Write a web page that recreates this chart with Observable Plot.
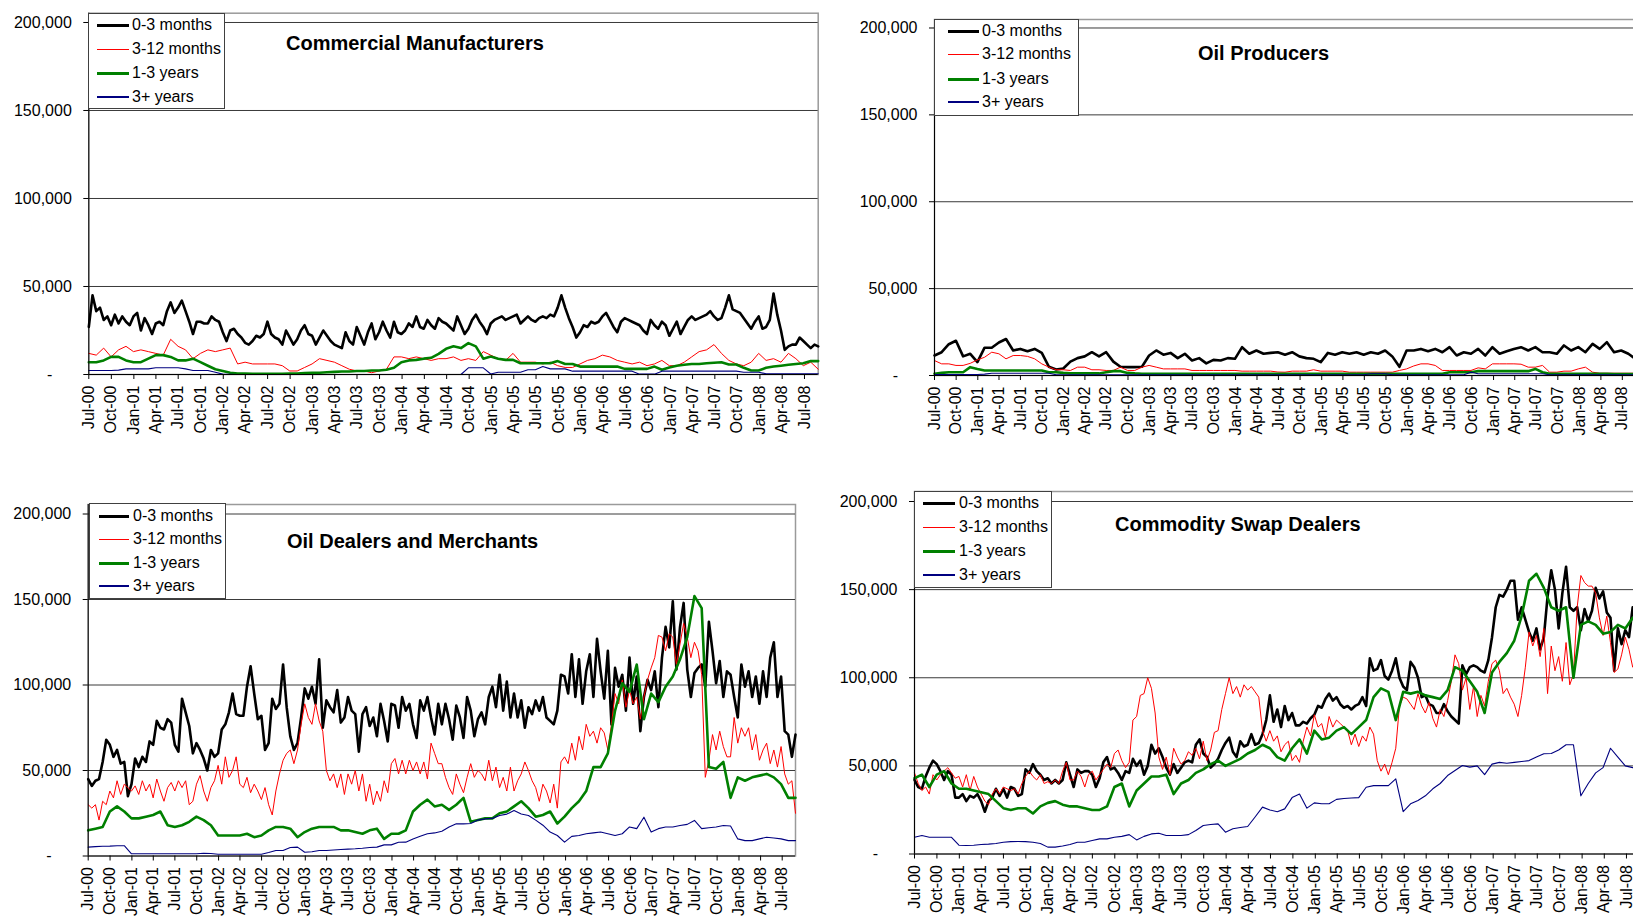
<!DOCTYPE html>
<html><head><meta charset="utf-8">
<script src="https://cdn.jsdelivr.net/npm/d3@7"></script>
<script src="https://cdn.jsdelivr.net/npm/@observablehq/plot@0.6"></script>
<style>
html,body{margin:0;padding:0;background:#fff;}
body{width:1633px;height:916px;overflow:hidden;position:relative;font-family:"Liberation Sans",Arial,sans-serif;color:#000;}
.panel{position:absolute;}
.legend{position:absolute;background:#fff;border:1px solid #404040;box-sizing:border-box;}
.entry{position:absolute;left:0;height:24px;width:100%;}
.entry .sw{position:absolute;}
.entry .tx{position:absolute;top:0;line-height:24px;font-size:16px;white-space:nowrap;}
.title{position:absolute;font-weight:bold;font-size:20px;line-height:20px;white-space:nowrap;}
</style></head><body>
<script>
// ---- categories / labels ----
const seriesNames = ["0-3 months", "3-12 months", "1-3 years", "3+ years"];
const seriesColors = ["#000000", "#ff0000", "#008000", "#000080"];
const seriesWidths = [2.6, 1, 2.6, 1.1];
const legendWidths = [3, 1, 3, 2];
const xTickLabels = ["Jul-00","Oct-00","Jan-01","Apr-01","Jul-01","Oct-01","Jan-02","Apr-02","Jul-02","Oct-02","Jan-03","Apr-03","Jul-03","Oct-03","Jan-04","Apr-04","Jul-04","Oct-04","Jan-05","Apr-05","Jul-05","Oct-05","Jan-06","Apr-06","Jul-06","Oct-06","Jan-07","Apr-07","Jul-07","Oct-07","Jan-08","Apr-08","Jul-08"];
const yTickValues = [0, 50000, 100000, 150000, 200000];
const yTickLabels = ["-", "50,000", "100,000", "150,000", "200,000"];
const firstDate = "2000-07-01", lastDate = "2008-08-26";

// ---- series values (thousands of contracts) ----
// Commercial Manufacturers
const cm03 = [
27,45,36,38,31,33,28,34,29,33,30,28,
33,35,25,32,28,23,29,30,28,36,41,35,
38,42,36,30,23,30,30,29,29,33,31,30,
24,19,25,26,23,21,18,17,19,22,21,23,
30,23,21,20,17,25,21,17,20,25,28,23,
22,17,21,25,22,19,17,16,15,24,19,17,
27,22,17,24,29,20,24,30,25,21,30,24,
23,25,29,27,33,27,26,31,28,26,32,30,
29,27,25,33,28,23,26,31,34,30,27,23,
29,31,32,33,31,32,33,34,29,31,33,31,
30,32,33,32,34,33,38,45,38,32,27,21,
24,28,27,30,29,30,33,35,31,27,24,30,
32,31,30,29,28,25,23,31,28,26,30,28,
22,26,30,23,27,31,33,31,32,33,34,36,
33,31,32,38,45,37,36,35,32,29,26,30,
33,26,27,31,46,34,25,14,16,17,17,21,
19,17,15,17,16];
const cm312 = [
12,11,15,10,14,16,13,14,13,12,11,20,
16,14,9,12,14,13,14,15,6,7,6,6,
6,6,5,2,2,4,6,9,8,7,5,3,
2,2,1,2,3,10,10,9,10,9,8,9,
9,10,8,9,8,13,11,9,8,12,7,7,
7,6,7,5,4,4,6,8,9,11,10,8,
7,6,7,5,6,8,5,5,7,10,13,14,
17,12,8,6,5,7,12,8,9,7,12,9,
5,7,3];
const cm13 = [
7,7,8,10,10,8,7,7,9,11,11,10,
8,8,9,7,5,3,2,1,0.5,0.5,0.4,0.4,
0.4,0.4,0.4,0.5,0.6,0.8,1,1,1.3,1.5,1.7,1.7,
2,2,2.3,2.3,2.7,3.8,7,8,8.3,9,9.5,11.7,
14.6,16,15,17.8,16,9,10.2,9,8.3,8.3,6.4,6.4,
6.4,6.4,6.4,7.6,6,6,4.5,4.5,4.5,4.5,4.5,4.5,
3.2,3.2,3.2,3.2,4.5,2.7,4,5,5.5,6,6,6.4,
6.7,7,5.7,5.7,3.8,2.3,2.3,3.8,4.5,5,5.5,6,
6.4,7.6,7.6];
const cm3p = [
2.3,2.3,2.3,2.3,2.5,3.2,3.2,3.2,3.2,3.8,3.8,3.8,
3.8,3.2,2.3,2.3,2.3,1.3,0.2,0.1,0,0,0,0,
0,0,0,0,0,0,0,0,0,0,0,0,
0,0,0,0,0,0,0,0,0,0,0,0,
0,0,0,3.8,3.8,3.8,0.3,1.3,1.3,1.3,1.3,2.7,
2.7,4.5,3.2,3.2,3.2,1.9,1.9,1.9,1.9,1.9,1.9,1.9,
1.9,1.9,0.2,0.2,0.2,1.9,1.9,1.9,1.9,1.9,1.9,1.9,
1.9,1.9,1.9,1.9,1.3,1.3,1.3,0.4,0.4,0.4,0.4,0.4,
0.4,0.4,0.4];
// Oil Producers
const op03 = [
11.5,13.4,18,20,11,12.5,7.7,16,16,19,21,14.4,
15.3,14,15.3,13,5,3.5,4,8,10,11,13.4,11,
13.4,8,5,4.8,4.8,5,11.5,14.4,12,13,10,12.5,
8.6,10,7,9,8.6,10,9.6,16.3,12.5,14.4,12.5,13,
13.4,12,13.4,11,10,9.6,7.7,13,12,13.4,12.5,13.4,
12,13.4,12.5,14.4,11,5,14.4,14.4,15.3,14,15.3,13.4,
16.3,11.5,13.4,12.5,15.3,11.5,16.3,12.5,14,15.3,16.3,14.4,
16.3,13.4,13.4,12.5,17.3,14.4,16.3,13.4,18.2,15.3,19.2,13.4,
14.4,12.5,9.6];
const op312 = [
8.6,6.7,6.7,5.8,5.8,7,9,10.5,13.4,12.5,9.6,11.5,
11.5,11,9.6,6.7,4.8,3.3,3.3,2.9,4.8,4.8,3.3,3.3,
2.9,2.9,4.8,2.9,2.9,4.8,5.8,4.8,3.8,3.8,3.8,3.8,
2.9,2.9,2.9,2.9,2.9,2.9,2.9,2.5,2.5,2.5,2.5,2.5,
2,1.9,2.5,2.5,2.5,3.3,2.5,2.5,2.5,2.5,1.9,1.9,
1.9,1.9,1.9,1.9,1.9,2.9,3.8,5.5,6.7,6.7,5.8,2.9,
2.9,2.9,2.9,2.9,4.4,3.8,6.7,6.7,6.7,6.7,6.5,4.8,
4.8,5.8,1.9,1.9,2.5,2.5,3.8,4.8,1.9,1.3,1.3,1.3,
1.3,1.3,1.3];
const op13 = [
1,1.5,1.9,1.9,1.9,4.8,3.8,2.9,2.9,2.9,2.9,2.9,
2.9,2.9,2.9,2.9,1.9,1.9,1.5,1.2,1.2,1.2,1.2,1.2,
1.9,2.5,2.5,1.5,1.2,1,1,1,1,1,1,1,
1,1,1,1,1,1,1,1,1,1,1,1,
1,1,1,1,1,1,1,1,1,1,1,1,
1,1,1,1,1,1,1,1,1,1,1,1,
1.9,1.9,1.9,1.9,2.5,2.5,2.5,2.5,2.5,2.5,2.5,2.5,
3.8,1.9,1,1,1,1,1,1,1,1,1,0.8,
0.8,0.8,0.8];
const op3p = [
0.6,0.6,0.6,0.6,0.6,0.6,0.6,0.8,1.3,1.3,1.3,1.3,
1.3,1.3,1.3,1.3,1.3,0.4,0.4,0.4,0.4,0.4,0.4,0.4,
0.4,0.4,0.4,0.4,0.4,0.4,0.4,0.4,0.4,0.4,0.4,0.4,
0.4,0.4,0.4,0.4,0.4,0.4,0.4,0.4,0.4,0.4,0.4,0.4,
0.4,0.4,0.4,0.4,0.4,0.4,0.4,0.4,0.4,0.4,0.4,0.4,
0.4,1,1,1,0.4,0.4,0.4,0.4,0.4,0.4,0.4,0.4,
0.4,0.4,0.4,1.9,1,1,1,1,1,1,1,1,
1,1,0.4,0.4,0.4,0.4,0.4,0.4,0.4,0.4,0.4,0.4,
0.4,0.4,0.4];
// Oil Dealers and Merchants
const od03 = [
45,41,44,45,55,68,65,58,62,54,55,35,
42,57,52,58,55,67,65,79,75,74,80,78,
65,61,92,84,76,60,66,62,57,50,62,58,
60,74,77,84,95,83,82,82,99,111,95,80,
82,62,66,92,86,89,112,87,70,62,66,81,
98,92,99,89,115,75,91,87,84,97,78,81,
93,85,83,61,83,87,76,81,70,89,79,67,
89,88,75,93,85,89,77,69,91,85,93,81,
71,89,77,89,80,68,88,81,69,93,85,70,
80,84,77,93,99,87,106,85,102,81,95,81,
91,75,87,83,91,85,93,81,79,77,85,106,
105,95,118,93,115,89,108,118,93,127,108,92,
120,77,110,99,106,85,116,89,105,73,93,103,
97,108,87,116,134,122,149,109,134,148,109,93,
107,110,112,99,137,120,101,114,93,108,106,93,
81,112,99,108,93,105,89,108,93,116,125,93,
105,73,71,58,71];
const od312 = [
30,28,30,21,32,30,38,34,44,36,42,40,
38,41,36,44,38,42,34,45,38,32,40,43,
38,44,40,44,30,32,42,47,38,32,40,44,
53,42,58,46,50,58,42,40,46,37,42,38,
33,40,30,24,38,48,56,60,62,54,62,77,
89,81,77,89,79,73,50,44,48,40,48,36,
48,42,50,38,48,32,42,30,38,32,44,37,
54,57,48,56,48,56,50,55,48,55,45,66,
60,54,54,46,40,36,48,42,37,46,54,46,
50,48,44,56,44,52,40,46,38,52,38,44,
48,55,50,44,40,32,42,38,31,42,28,55,
58,54,66,56,70,62,77,70,73,66,75,72,
62,77,95,89,103,87,97,89,93,80,93,103,
110,116,129,128,120,130,128,112,124,136,128,116,
125,120,106,46,56,71,62,73,64,58,58,81,
66,75,70,75,62,71,56,62,66,54,62,52,
64,48,42,44,25];
const od13 = [
15,16,17,26,29,26,22,22,23,24,26,18,
17,18,20,23,21,18,12,12,12,12,13,11,
12,15,17,17,16,11,14,16,17,17,17,15,
15,14,13,15,16,10,13,13,15,26,30,33,
29,30,27,30,34,20,21,22,22,25,26,29,
32,28,23,24,26,19,23,28,32,38,52,52,
60,85,101,96,112,80,95,90,99,105,115,128,
152,145,52,51,55,34,46,44,46,47,48,46,
42,34,34];
const od3p = [
5.2,5.5,5.7,5.8,6,6,1.3,1.3,1.3,1.3,1.3,1.3,
1.3,1.3,1.3,1.3,1.6,1.5,1,1,1,1,1,1,
1,2,3.2,3.2,5,5.2,2.2,2.5,3.2,3.2,3.5,3.8,
4,4.2,4.5,5,5.2,6.5,6.5,8,8.1,10,11.5,13,
13.5,14.5,17,18.8,18.8,19,21,21.7,22,23.7,24.5,26.6,
24.6,23.7,21,18,14,12,8.1,11.5,12,13,13.5,14,
13,12,13,17,16,22.7,14,16,17,17,17.8,18.5,
20.8,16,16.5,17,17.8,17.5,10,9,9,10,11,10.5,
10,9,9];
// Commodity Swap Dealers
const sd03 = [
42,38,37,44,49,53,51,47,42,47,45,32,
32,34,30,33,32,34,30,24,30,32,37,33,
37,32,38,37,33,34,48,46,51,47,45,42,
43,40,42,40,42,52,45,38,48,46,47,47,
45,38,43,52,55,48,49,46,42,47,46,54,
50,53,45,50,62,57,60,55,49,45,51,46,
49,52,53,52,62,65,57,55,49,51,54,59,
63,66,58,55,64,61,62,68,62,63,68,76,
90,75,82,72,84,76,80,73,73,75,74,77,
79,84,83,88,91,87,89,85,83,84,82,84,
85,89,84,111,104,105,110,101,99,104,111,100,
95,93,109,106,100,89,90,85,84,80,80,85,
81,78,76,74,107,102,106,107,106,104,103,110,
123,140,147,146,150,155,155,133,140,133,126,121,
128,116,123,146,161,150,128,148,163,140,138,140,
127,139,132,138,151,145,149,137,134,104,128,119,
127,123,140,130,128];
const sd312 = [
46,40,36,38,34,45,42,45,47,49,46,43,
44,38,45,36,44,38,34,30,28,34,37,34,
38,37,36,37,34,40,44,47,44,42,45,40,
41,40,42,40,47,52,42,42,47,44,38,45,
47,42,45,48,51,49,57,59,53,49,52,76,
78,90,91,100,94,80,55,48,55,45,60,55,
51,53,58,56,60,54,64,53,59,69,70,82,
91,100,91,95,89,96,93,95,92,89,70,64,
70,64,67,58,62,64,53,56,52,64,72,67,
79,72,74,66,78,72,76,74,72,70,62,68,
61,67,64,72,68,53,47,51,45,52,60,84,
89,88,85,82,91,84,80,86,77,72,82,78,
87,98,113,108,93,100,82,95,78,90,84,98,
108,110,104,91,94,89,85,78,90,106,126,118,
124,112,128,91,118,104,112,98,120,96,102,140,
158,154,152,152,148,134,124,135,120,103,105,113,
123,116,106,110,112];
const sd13 = [
43,45,38,45,47,40,37,37,36,35,34,30,
26,25,26,26,23,27,29,30,28,27,27,26,
25,25,27,38,40,27,36,40,44,44,45,34,
40,42,46,48,51,53,50,52,54,57,59,62,
60,55,53,60,65,57,70,65,66,70,72,68,
72,76,89,94,92,76,92,91,92,90,89,88,
93,106,104,98,92,80,103,109,114,121,135,155,
159,151,140,138,140,100,130,132,130,125,126,130,
128,134,130];
const sd3p = [
9.5,10.5,9.5,9.5,9.5,9.5,5,4.8,5,5.4,5.6,6,
6.7,7,7.1,7,6.7,6,3.9,3.9,4.5,5.4,6.7,6.7,
7.7,8.6,8.6,9.5,10,11,8,10,11.4,11.8,10.5,10.5,
10.5,11,13.3,16.2,16.7,17.1,12.4,14.3,15,15.6,21,26.6,
25,24,25.6,32,34,26,29,28.5,28.5,31,31.5,31.8,
32,37.9,38.8,38.8,38.8,42.6,24,28.5,30.4,33,37,40,
44.5,47.4,50.2,49.3,50,45,51,52,51.5,52,52.5,53,
55,56.9,57,59,62,62,33,40,46,49,60,55,
50,49,49];

// ---- layout ----
const panels = [
  {title: "Commercial Manufacturers", series: [cm03, cm312, cm13, cm3p],
   left: 0, top: 0, width: 820, height: 460, mL: 88.3, mR: 2.3, mT: 12.7, mB: 86, ymax: 205284,
   legend: {x: 88, y: 13, w: 137, h: 96, rows: [11, 35, 59, 83], l0: 8, l1: 40, t: 43},
   tx: 286, ty: 43},
  {title: "Oil Producers", series: [op03, op312, op13, op3p],
   left: 820, top: 0, width: 815, height: 460, mL: 114, mR: 0, mT: 19, mB: 85, ymax: 204892,
   legend: {x: 934, y: 19, w: 145, h: 97, rows: [11, 34, 59, 82], l0: 13, l1: 44, t: 47},
   tx: 1198, ty: 53},
  {title: "Oil Dealers and Merchants", series: [od03, od312, od13, od3p],
   left: 0, top: 460, width: 800, height: 456, mL: 87.7, mR: 5, mT: 44, mB: 60.5, ymax: 205556,
   legend: {x: 89, y: 503, w: 137, h: 96, rows: [12, 35, 59, 82], l0: 9, l1: 39, t: 43},
   tx: 287, ty: 541},
  {title: "Commodity Swap Dealers", series: [sd03, sd312, sd13, sd3p],
   left: 820, top: 460, width: 820, height: 456, mL: 94, mR: 0.4, mT: 31, mB: 62.5, ymax: 205674,
   legend: {x: 914, y: 491, w: 138, h: 97, rows: [11, 35, 59, 83], l0: 8, l1: 40, t: 44},
   tx: 1115, ty: 524}
];

const FONT = '"Liberation Sans", Arial, sans-serif';
const parseTick = d3.utcParse("%b-%y");
const xTickDates = xTickLabels.map(parseTick);
const tickLabelByTime = new Map(xTickDates.map((d, i) => [+d, xTickLabels[i]]));
const d0 = d3.utcParse("%Y-%m-%d")(firstDate), d1 = d3.utcParse("%Y-%m-%d")(lastDate);
const t0 = +d0, t1 = +d1;

function toRows(vals, name) {
  const n = vals.length;
  return vals.map((v, i) => ({date: new Date(t0 + (t1 - t0) * i / (n - 1)), value: v * 1000, series: name}));
}

panels.forEach(p => {
  const chart = Plot.plot({
    width: p.width, height: p.height,
    marginLeft: p.mL, marginRight: p.mR, marginTop: p.mT, marginBottom: p.mB,
    style: {fontFamily: FONT, fontSize: "16px", color: "#000", background: "transparent", overflow: "visible"},
    x: {type: "utc", domain: [d0, d1]},
    y: {domain: [0, p.ymax]},
    marks: [
      Plot.frame({stroke: "#9a9a9a", strokeWidth: 1.5}),
      Plot.ruleY(yTickValues.slice(1), {stroke: "#3a3a3a", strokeWidth: 1}),
      ...p.series.map((vals, s) => Plot.lineY(toRows(vals, seriesNames[s]), {
        x: "date", y: "value", stroke: seriesColors[s], strokeWidth: seriesWidths[s], strokeLinejoin: "round"})),
      Plot.ruleX([d0], {stroke: "#000", strokeWidth: 1}),
      Plot.ruleY([0], {stroke: "#000", strokeWidth: 1}),
      Plot.axisY({ticks: yTickValues.slice(1), tickSize: 5, tickPadding: 12,
        tickFormat: d => yTickLabels[yTickValues.indexOf(d)], label: null, fill: "#000"}),
      Plot.axisY({ticks: [0], tickSize: 5, tickPadding: 31.5, tickFormat: () => yTickLabels[0], label: null, fill: "#000"}),
      Plot.axisX({ticks: xTickDates, tickSize: 5, tickPadding: 6, tickRotate: -90,
        tickFormat: d => tickLabelByTime.get(+d), label: null, fill: "#000"})
    ]
  });
  const holder = document.createElement("div");
  holder.className = "panel";
  holder.style.left = p.left + "px";
  holder.style.top = p.top + "px";
  holder.style.width = p.width + "px";
  holder.style.height = p.height + "px";
  holder.appendChild(chart);
  document.body.appendChild(holder);

  const lg = document.createElement("div");
  lg.className = "legend";
  Object.assign(lg.style, {left: p.legend.x + "px", top: p.legend.y + "px", width: p.legend.w + "px", height: p.legend.h + "px"});
  seriesNames.forEach((name, s) => {
    const e = document.createElement("div");
    e.className = "entry";
    e.style.top = (p.legend.rows[s] - 12) + "px";
    const sw = document.createElement("span");
    sw.className = "sw";
    Object.assign(sw.style, {left: p.legend.l0 + "px", width: (p.legend.l1 - p.legend.l0) + "px",
      top: Math.round(12 - legendWidths[s] / 2) + "px", height: legendWidths[s] + "px", background: seriesColors[s]});
    const tx = document.createElement("span");
    tx.className = "tx";
    tx.style.left = p.legend.t + "px";
    tx.textContent = name;
    e.appendChild(sw); e.appendChild(tx);
    lg.appendChild(e);
  });
  document.body.appendChild(lg);

  const tt = document.createElement("div");
  tt.className = "title";
  tt.style.left = p.tx + "px";
  tt.style.top = (p.ty - 10) + "px";
  tt.textContent = p.title;
  document.body.appendChild(tt);
});
</script>
</body></html>
